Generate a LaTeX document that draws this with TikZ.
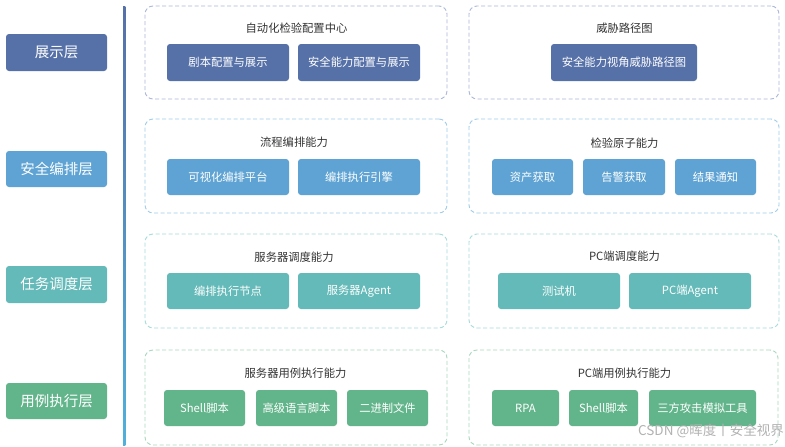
\documentclass[tikz,border=0pt]{standalone}
\usepackage{fontspec}
\setmainfont{Noto Sans CJK SC}
\usetikzlibrary{positioning}
\definecolor{cA}{HTML}{5670A8}
\definecolor{cAb}{HTML}{ABB8D8}
\definecolor{cB}{HTML}{5EA3D3}
\definecolor{cBb}{HTML}{A0CDEA}
\definecolor{cC}{HTML}{63BAB8}
\definecolor{cCb}{HTML}{A6DCDA}
\definecolor{cD}{HTML}{62B58B}
\definecolor{cDb}{HTML}{A8D8BE}
\definecolor{titlec}{HTML}{333333}
\tikzset{
  layerbox/.style={draw=none, rounded corners=3pt, text=white, font=\fontsize{14.5}{16}\selectfont, inner sep=0pt},
  groupbox/.style={rounded corners=8pt, dash pattern=on 4pt off 2.5pt, line width=0.9pt, fill=white},
  itembox/.style={rounded corners=3pt, text=white, font=\fontsize{11.3}{13}\selectfont, inner sep=0pt},
  grouptitle/.style={text=titlec, font=\fontsize{11.3}{13}\selectfont, inner sep=0pt},
}
\newcommand{\boxat}[6]{% name, style color, x1,y1,x2,y2 ; text in #7
}
\begin{document}
\begin{tikzpicture}[x=1pt,y=-1pt]
\useasboundingbox (0,0) rectangle (785,447);
\fill[white] (0,0) rectangle (785,447);
% vertical separator
\shade[top color=cA, bottom color=cB!85!cyan] (123,6) rectangle (125.4,445);
% layer labels
\node[layerbox, fill=cA, minimum width=101pt, minimum height=37pt] (L1) at (56.5,52.5) {展示层};
\node[layerbox, fill=cB, minimum width=101pt, minimum height=36pt] (L2) at (56.5,169) {安全编排层};
\node[layerbox, fill=cC, minimum width=101pt, minimum height=37pt] (L3) at (56.5,284.5) {任务调度层};
\node[layerbox, fill=cD, minimum width=101pt, minimum height=36pt] (L4) at (56.5,401) {用例执行层};
% group boxes
\node[groupbox, draw=cAb, minimum width=302pt, minimum height=93pt] (G1a) at (296,52.5) {};
\node[groupbox, draw=cAb, minimum width=310pt, minimum height=93pt] (G1b) at (624,52.5) {};
\node[groupbox, draw=cBb, minimum width=302pt, minimum height=94pt] (G2a) at (296,166) {};
\node[groupbox, draw=cBb, minimum width=310pt, minimum height=94pt] (G2b) at (624,166) {};
\node[groupbox, draw=cCb, minimum width=302pt, minimum height=94pt] (G3a) at (296,281) {};
\node[groupbox, draw=cCb, minimum width=310pt, minimum height=94pt] (G3b) at (624,281) {};
\node[groupbox, draw=cDb, minimum width=302pt, minimum height=95pt] (G4a) at (296,397.5) {};
\node[groupbox, draw=cDb, minimum width=309pt, minimum height=95pt] (G4b) at (623.5,397.5) {};
% titles
\node[grouptitle] (T1a) at (296.5,28) {自动化检验配置中心};
\node[grouptitle] (T1b) at (624.5,28) {威胁路径图};
\node[grouptitle] (T2a) at (294,142) {流程编排能力};
\node[grouptitle] (T2b) at (624.5,143) {检验原子能力};
\node[grouptitle] (T3a) at (294,257) {服务器调度能力};
\node[grouptitle] (T3b) at (624.5,256) {PC端调度能力};
\node[grouptitle] (T4a) at (295.5,373) {服务器用例执行能力};
\node[grouptitle] (T4b) at (624.5,373) {PC端用例执行能力};
% row 1 items
\node[itembox, fill=cA, minimum width=122pt, minimum height=37pt] (I11) at (228,62.5) {剧本配置与展示};
\node[itembox, fill=cA, minimum width=122pt, minimum height=37pt] (I12) at (359,62.5) {安全能力配置与展示};
\node[itembox, fill=cA, minimum width=146pt, minimum height=37pt] (I13) at (624,62.5) {安全能力视角威胁路径图};
% row 2 items
\node[itembox, fill=cB, minimum width=122pt, minimum height=36pt] (I21) at (228,177) {可视化编排平台};
\node[itembox, fill=cB, minimum width=122pt, minimum height=36pt] (I22) at (359,177) {编排执行引擎};
\node[itembox, fill=cB, minimum width=81pt, minimum height=36pt] (I23) at (532.5,177) {资产获取};
\node[itembox, fill=cB, minimum width=82pt, minimum height=36pt] (I24) at (624,177) {告警获取};
\node[itembox, fill=cB, minimum width=81pt, minimum height=36pt] (I25) at (715.5,177) {结果通知};
% row 3 items
\node[itembox, fill=cC, minimum width=122pt, minimum height=36pt] (I31) at (228,291) {编排执行节点};
\node[itembox, fill=cC, minimum width=122pt, minimum height=36pt] (I32) at (359,291) {服务器Agent};
\node[itembox, fill=cC, minimum width=122pt, minimum height=36pt] (I33) at (559,291) {测试机};
\node[itembox, fill=cC, minimum width=122pt, minimum height=36pt] (I34) at (690,291) {PC端Agent};
% row 4 items
\node[itembox, fill=cD, minimum width=81pt, minimum height=36pt] (I41) at (204.5,408) {Shell脚本};
\node[itembox, fill=cD, minimum width=81pt, minimum height=36pt] (I42) at (296.5,408) {高级语言脚本};
\node[itembox, fill=cD, minimum width=81pt, minimum height=36pt] (I43) at (387.5,408) {二进制文件};
\node[itembox, fill=cD, minimum width=67pt, minimum height=36pt] (I44) at (525.5,408) {RPA};
\node[itembox, fill=cD, minimum width=69pt, minimum height=36pt] (I45) at (603.5,408) {Shell脚本};
\node[itembox, fill=cD, minimum width=107pt, minimum height=36pt] (I46) at (702.5,408) {三方攻击模拟工具};
% watermark
\node[text=black!30, font=\fontsize{13.5}{15}\selectfont, anchor=east, inner sep=0pt] (WM) at (784,431) {CSDN @晖度丨安全视界};
\end{tikzpicture}
\end{document}
